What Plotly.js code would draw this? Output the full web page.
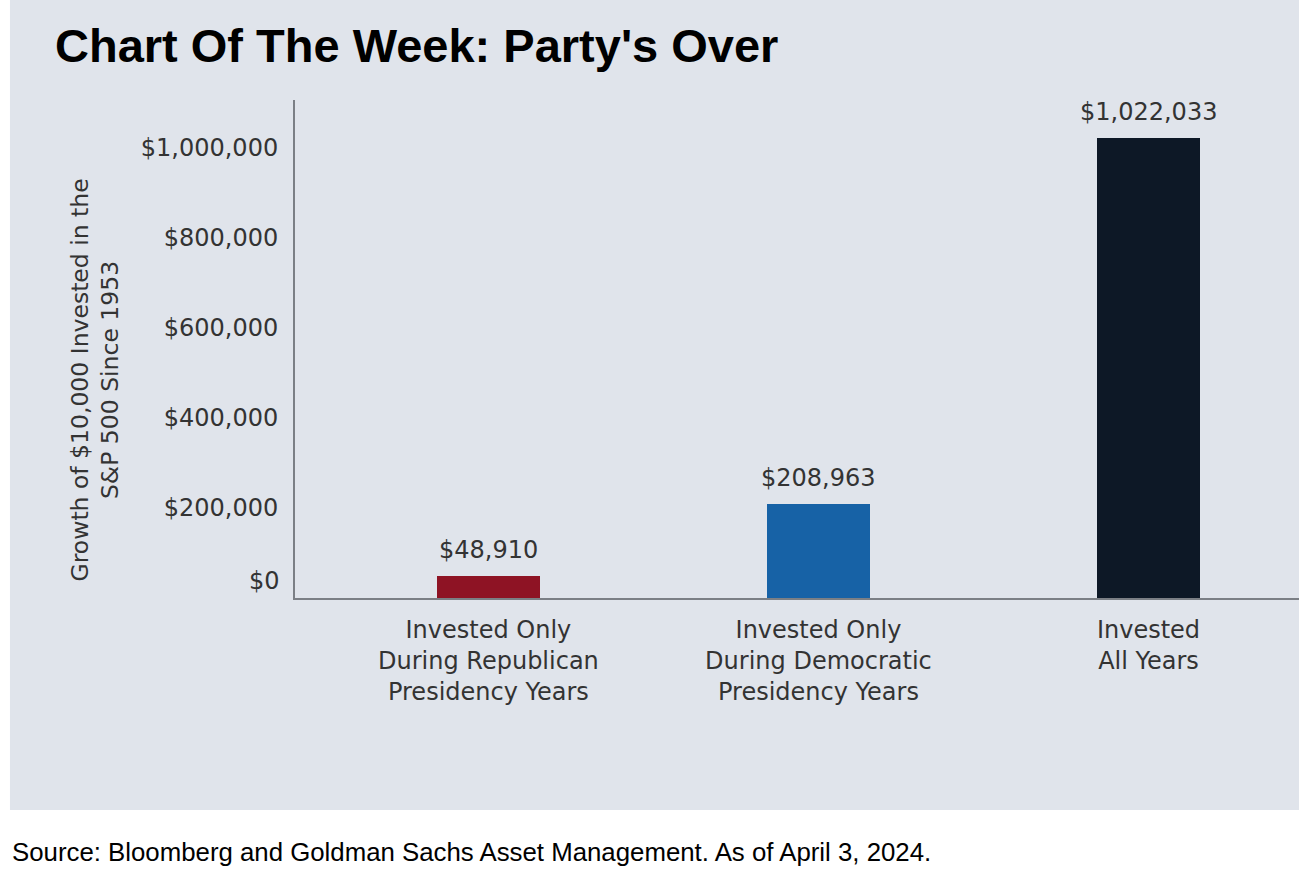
<!DOCTYPE html>
<html>
<head>
<meta charset="utf-8">
<script src="https://cdn.plot.ly/plotly-3.0.1.min.js"></script>
<style>
  html, body { margin: 0; padding: 0; background: #ffffff; }
  #chart { width: 1299px; height: 891px; }
</style>
</head>
<body>
<div id="chart"></div>
<script>
// ---- data ----
const categories = [
  "Invested Only<br>During Republican<br>Presidency Years",
  "Invested Only<br>During Democratic<br>Presidency Years",
  "Invested<br>All Years"
];
const values = [48910, 208963, 1022033];
const valueLabels = ["$48,910", "$208,963", "$1,022,033"];
const barColors = ["#8e1324", "#1762a6", "#0d1826"];
const yTickVals = [200000, 400000, 600000, 800000, 1000000];
const yTickText = ["$200,000", "$400,000", "$600,000", "$800,000", "$1,000,000"];
const zeroLabel = "$0";
const titleText = "Chart Of The Week: Party's Over";
const yTitleText = "Growth of $10,000 Invested in the<br>S&P 500 Since 1953";
const sourceText = "Source: Bloomberg and Goldman Sachs Asset Management. As of April 3, 2024.";

const tickFont = { family: "DejaVu Sans, sans-serif", size: 24, color: "#333333" };

const trace = {
  type: "bar",
  x: categories,
  y: values,
  width: 0.312,
  marker: { color: barColors, line: { width: 0 } },
  hoverinfo: "skip"
};

const annotations = values.map((v, i) => ({
  x: categories[i], y: v, xref: "x", yref: "y",
  text: valueLabels[i], showarrow: false,
  xanchor: "center", yanchor: "bottom", yshift: 10,
  font: tickFont
}));

annotations.push({
  x: 0, y: 0, xref: "paper", yref: "y",
  text: zeroLabel, showarrow: false,
  xanchor: "right", yanchor: "middle", xshift: -13, yshift: 17,
  font: tickFont
});

annotations.push({
  x: -0.199, y: 0.437, xref: "paper", yref: "paper",
  text: yTitleText, showarrow: false, textangle: -90,
  xanchor: "center", yanchor: "middle",
  font: { family: "DejaVu Sans, sans-serif", size: 23.5, color: "#333333" }
});

annotations.push({
  x: -0.2839, y: -0.510, xref: "paper", yref: "paper",
  text: sourceText, showarrow: false,
  xanchor: "left", yanchor: "middle",
  font: { family: "Liberation Sans, Arial, sans-serif", size: 25.8, color: "#000000" }
});

const layout = {
  width: 1299, height: 891,
  margin: { l: 295, r: 0, t: 100, b: 293, pad: 0 },
  paper_bgcolor: "#ffffff",
  plot_bgcolor: "rgba(0,0,0,0)",
  showlegend: false,
  title: {
    text: "<b>" + titleText + "</b>",
    xref: "container", yref: "container",
    x: 55 / 1299, xanchor: "left",
    y: 1 - 46 / 891, yanchor: "middle",
    font: { family: "Liberation Sans, Arial, sans-serif", size: 47, color: "#000000" }
  },
  xaxis: {
    type: "category",
    range: [-0.586, 2.456],
    showgrid: false, zeroline: false,
    showline: true, linecolor: "#7b7f85", linewidth: 2,
    ticks: "", ticklabelstandoff: 9,
    tickfont: tickFont,
    fixedrange: true
  },
  yaxis: {
    range: [0, 1106000],
    showgrid: false, zeroline: false,
    showline: true, linecolor: "#7b7f85", linewidth: 2,
    tickmode: "array", tickvals: yTickVals, ticktext: yTickText,
    ticks: "", ticklabelstandoff: 10,
    tickfont: tickFont,
    fixedrange: true
  },
  shapes: [{
    type: "rect", xref: "paper", yref: "paper", layer: "below",
    x0: -0.2839, x1: 1.01, y0: -0.4257, y1: 1.21,
    fillcolor: "#e0e4eb", line: { width: 0 }
  }],
  annotations: annotations,
  bargap: 0
};

Plotly.newPlot("chart", [trace], layout, { displayModeBar: false, staticPlot: true });
</script>
</body>
</html>
